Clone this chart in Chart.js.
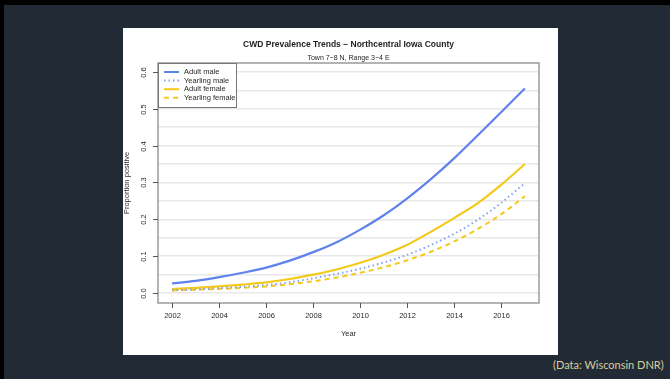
<!DOCTYPE html>
<html>
<head>
<meta charset="utf-8">
<script src="https://cdn.jsdelivr.net/npm/chart.js@4.4.0/dist/chart.umd.min.js"></script>
<style>
  html, body { margin: 0; padding: 0; background: #000; width: 670px; height: 379px; overflow: hidden; }
  #slide { position: absolute; left: 4px; top: 5px; width: 666px; height: 374px; background: #222a36; }
  #panel { position: absolute; left: 119px; top: 23px; width: 435px; height: 327px; background: #fff; }
  #panel canvas { position: absolute; left: 0; top: 0; }
  #source { position: absolute; left: 549px; top: 353px; font: 11px Lato, "Open Sans", sans-serif;
            line-height: 14px; color: #d8cf9e; white-space: nowrap; }
</style>
</head>
<body>
<div id="slide">
  <div id="panel"><canvas id="cwdChart" width="435" height="327"></canvas></div>
  <div id="source">(Data: Wisconsin DNR)</div>
</div>
<script>
// --- data ---
const years          = [2002, 2003, 2004, 2005, 2006, 2007, 2008, 2009, 2010, 2011, 2012, 2013, 2014, 2015, 2016, 2017];
const adultMale      = [0.026, 0.033, 0.043, 0.055, 0.069, 0.088, 0.111, 0.138, 0.172, 0.211, 0.257, 0.309, 0.366, 0.428, 0.491, 0.555];
const yearlingMale   = [0.008, 0.010, 0.013, 0.017, 0.022, 0.029, 0.040, 0.052, 0.066, 0.083, 0.104, 0.130, 0.161, 0.199, 0.245, 0.298];
const adultFemale    = [0.011, 0.014, 0.018, 0.023, 0.029, 0.038, 0.050, 0.064, 0.082, 0.104, 0.131, 0.166, 0.204, 0.244, 0.294, 0.350];
const yearlingFemale = [0.007, 0.009, 0.011, 0.014, 0.018, 0.024, 0.032, 0.042, 0.055, 0.070, 0.089, 0.112, 0.140, 0.174, 0.214, 0.263];

const xTicks = [2002, 2004, 2006, 2008, 2010, 2012, 2014, 2016];
const yTicks = [0.0, 0.1, 0.2, 0.3, 0.4, 0.5, 0.6];

const titleText    = 'CWD Prevalence Trends \u2212 Northcentral Iowa County';
const subtitleText = 'Town 7\u22128 N, Range 3\u22124 E';

const BLUE  = '#5f82ec';
const LBLUE = '#86a0f1';
const GOLD  = '#f3ca1c';
const FONT  = '"Liberation Sans", Arial, sans-serif';

const toPoints = vals => vals.map((v, i) => ({ x: years[i], y: v }));

// R-style axes, box, titles and legend
const rPlot = {
  id: 'rPlot',
  afterDraw(chart) {
    const { ctx, chartArea: a, scales: { x, y } } = chart;
    const midX = (a.left + a.right) / 2;
    ctx.save();

    // plot box
    ctx.strokeStyle = '#8c8c8c';
    ctx.lineWidth = 1.3;
    ctx.strokeRect(a.left, a.top, a.right - a.left, a.bottom - a.top);

    ctx.fillStyle = '#2a2a2a';
    ctx.strokeStyle = '#555';
    ctx.lineWidth = 1;
    ctx.font = '7.5px ' + FONT;
    ctx.textAlign = 'center';
    ctx.textBaseline = 'middle';

    // y ticks (labels rotated like R)
    yTicks.forEach(v => {
      const py = Math.round(y.getPixelForValue(v)) + 0.5;
      ctx.beginPath(); ctx.moveTo(a.left - 5, py); ctx.lineTo(a.left, py); ctx.stroke();
      ctx.save();
      ctx.translate(a.left - 14, py);
      ctx.rotate(-Math.PI / 2);
      ctx.fillText(v.toFixed(1), 0, 0);
      ctx.restore();
    });

    // x ticks
    xTicks.forEach(v => {
      const px = Math.round(x.getPixelForValue(v)) + 0.5;
      ctx.beginPath(); ctx.moveTo(px, a.bottom); ctx.lineTo(px, a.bottom + 5); ctx.stroke();
      ctx.fillText(String(v), px, a.bottom + 13);
    });

    // axis titles
    ctx.fillText('Year', midX, a.bottom + 31);
    ctx.save();
    ctx.translate(a.left - 31, (a.top + a.bottom) / 2);
    ctx.rotate(-Math.PI / 2);
    ctx.fillText('Proportion positive', 0, 0);
    ctx.restore();

    // titles
    ctx.fillStyle = '#1e1e1e';
    ctx.font = 'bold 8.5px ' + FONT;
    ctx.fillText(titleText, midX, a.top - 18);
    ctx.font = '7px ' + FONT;
    ctx.fillText(subtitleText, midX, a.top - 4.5);

    // legend
    const lx = a.left, ly = a.top, lw = 78, lh = 44;
    ctx.fillStyle = '#fff';
    ctx.fillRect(lx, ly, lw, lh);
    ctx.strokeStyle = '#777';
    ctx.lineWidth = 1;
    ctx.strokeRect(lx + 0.5, ly + 0.5, lw, lh);
    ctx.font = '7.5px ' + FONT;
    ctx.textAlign = 'left';
    chart.data.datasets.forEach((ds, i) => {
      const ry = ly + 9 + i * 8.6;
      ctx.strokeStyle = ds.borderColor;
      ctx.lineWidth = 2;
      ctx.setLineDash(ds.borderDash || []);
      ctx.beginPath(); ctx.moveTo(lx + 6, ry); ctx.lineTo(lx + 21, ry); ctx.stroke();
      ctx.setLineDash([]);
      ctx.fillStyle = '#2a2a2a';
      ctx.fillText(ds.label, lx + 26, ry);
    });

    ctx.restore();
  }
};

new Chart(document.getElementById('cwdChart'), {
  type: 'line',
  data: {
    datasets: [
      { label: 'Adult male',      data: toPoints(adultMale),      borderColor: BLUE,  borderWidth: 2.2 },
      { label: 'Yearling male',   data: toPoints(yearlingMale),   borderColor: LBLUE, borderWidth: 2, borderDash: [1.5, 3] },
      { label: 'Adult female',    data: toPoints(adultFemale),    borderColor: GOLD,  borderWidth: 2.2 },
      { label: 'Yearling female', data: toPoints(yearlingFemale), borderColor: GOLD,  borderWidth: 2, borderDash: [5, 4] }
    ]
  },
  options: {
    responsive: false,
    animation: false,
    events: [],
    layout: { padding: { left: 35, top: 35, right: 19, bottom: 44 } },
    elements: {
      point: { radius: 0 },
      line: { cubicInterpolationMode: 'monotone', fill: false }
    },
    plugins: {
      legend: { display: false },
      tooltip: { enabled: false }
    },
    scales: {
      x: {
        type: 'linear',
        min: 2001.4,
        max: 2017.6,
        ticks: { display: false },
        grid: { display: false },
        border: { display: false }
      },
      y: {
        min: -0.027,
        max: 0.624,
        ticks: { display: false, stepSize: 0.05, includeBounds: false },
        grid: { color: '#e8e8e8', lineWidth: 1.5, drawTicks: false },
        border: { display: false }
      }
    }
  },
  plugins: [rPlot]
});
</script>
</body>
</html>
